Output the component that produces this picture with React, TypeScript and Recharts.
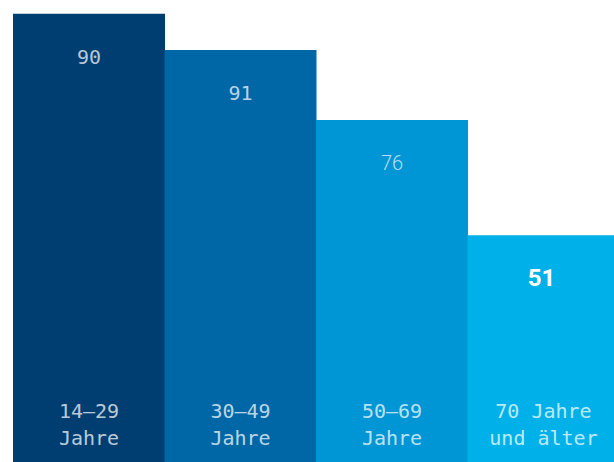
import { BarChart, Bar, XAxis, YAxis, Cell, LabelList } from "recharts"

// age groups (two text lines each)
const groupsLine1 = ["14–29", "30–49", "50–69", "70 Jahre"]
const groupsLine2 = ["Jahre", "Jahre", "Jahre", "und älter"]
// printed numbers
const valueLabels = ["90", "91", "76", "51"]
// bar heights (share of the full height, 0–100)
const barHeights = [97, 89.2, 74, 49.1]

const COLORS = ["#003e72", "#0067a7", "#0096d6", "#00b1e9"]

const data = groupsLine1.map((g, i) => ({
  name: g,
  sub: groupsLine2[i],
  label: valueLabels[i],
  height: barHeights[i],
}))

const MONO = '"DejaVu Sans Mono", "Liberation Mono", monospace'

const ValueLabel = (props: any) => {
  const { x, y, width, index } = props
  const last = index === data.length - 1
  return (
    <text
      x={x + width / 2 - (last ? 2 : 0)}
      y={y + 43}
      textAnchor="middle"
      dominantBaseline="central"
      fill={last ? "#ffffff" : "rgba(255,255,255,0.72)"}
      fontFamily={last || index === 2 ? "Roboto, sans-serif" : MONO}
      fontWeight={last ? 700 : 300}
      fontSize={last ? 24 : 20}
    >
      {data[index].label}
    </text>
  )
}

const GroupLabel = (props: any) => {
  const { x, y, width, height, index } = props
  const bottom = y + height
  return (
    <text
      textAnchor="middle"
      fill="rgba(255,255,255,0.74)"
      fontFamily={MONO}
      fontSize={20}
    >
      <tspan x={x + width / 2} y={bottom - 51} dominantBaseline="central">{data[index].name}</tspan>
      <tspan x={x + width / 2} y={bottom - 24} dominantBaseline="central">{data[index].sub}</tspan>
    </text>
  )
}

export default function App() {
  return (
    <div style={{ position: "absolute", left: 0, top: 0, width: 614, height: 462, overflow: "hidden", background: "#fff" }}>
      <BarChart
        width={619}
        height={462}
        data={data}
        margin={{ top: 0, right: 0, bottom: 0, left: 13 }}
        barCategoryGap={0}
      >
        <XAxis dataKey="name" hide />
        <YAxis hide domain={[0, 100]} />
        <Bar dataKey="height" isAnimationActive={false}>
          {data.map((_, i) => (
            <Cell key={`cell-${i}`} fill={COLORS[i]} />
          ))}
          <LabelList dataKey="label" content={ValueLabel} />
          <LabelList dataKey="name" content={GroupLabel} />
        </Bar>
      </BarChart>
    </div>
  )
}
